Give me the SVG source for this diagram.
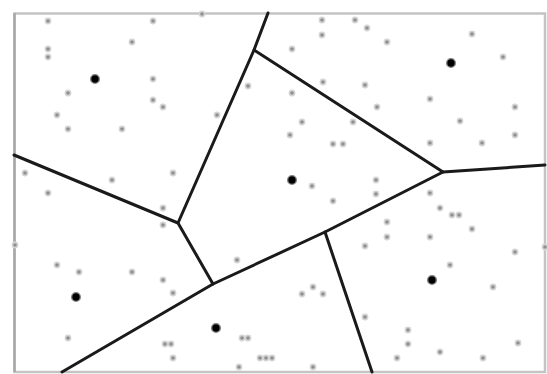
<svg xmlns="http://www.w3.org/2000/svg" xmlns:xlink="http://www.w3.org/1999/xlink" width="547" height="374" viewBox="0 0 547 374">
<style>
.frame{fill:none;stroke:#c4c4c4;stroke-width:2.5}
.edge{fill:none;stroke:#1a1a1a;stroke-width:3;stroke-linecap:round;stroke-linejoin:round}
.pt{fill:#8f8f8f;stroke:#d4d4d4;stroke-width:1.6}
.seed{fill:#000;stroke:#8a8a8a;stroke-width:1.4}
</style>
<defs>
<circle id="p" r="2.6" class="pt"/>
<circle id="s" r="4.4" class="seed"/>
</defs>
<rect width="547" height="374" fill="#fff"/>
<g id="frame">
<rect x="14.5" y="13.5" width="530.5" height="358.5" class="frame"/>
<line x1="14.5" y1="13" x2="14.5" y2="372" stroke="#a8a8a8" stroke-width="2.5"/>
</g>
<g id="edges">
<polyline class="edge" points="268,13 254,50 178,223"/>
<polyline class="edge" points="254,50 443,172 545,165"/>
<polyline class="edge" points="14,155 178,223 213,284"/>
<polyline class="edge" points="62,372 213,284 325,232 443,172"/>
<polyline class="edge" points="325,232 372,372"/>
</g>
<g id="seeds">
<use xlink:href="#s" x="95" y="79"/>
<use xlink:href="#s" x="451" y="63"/>
<use xlink:href="#s" x="292" y="180"/>
<use xlink:href="#s" x="76" y="297"/>
<use xlink:href="#s" x="216" y="328"/>
<use xlink:href="#s" x="432" y="280"/>
</g>
<g id="points">
<use xlink:href="#p" x="48" y="21"/>
<use xlink:href="#p" x="153" y="21"/>
<use xlink:href="#p" x="202" y="14"/>
<use xlink:href="#p" x="132" y="42"/>
<use xlink:href="#p" x="48" y="49"/>
<use xlink:href="#p" x="48" y="57"/>
<use xlink:href="#p" x="153" y="79"/>
<use xlink:href="#p" x="68" y="93"/>
<use xlink:href="#p" x="153" y="100"/>
<use xlink:href="#p" x="163" y="107"/>
<use xlink:href="#p" x="57" y="115"/>
<use xlink:href="#p" x="68" y="129"/>
<use xlink:href="#p" x="122" y="129"/>
<use xlink:href="#p" x="217" y="115"/>
<use xlink:href="#p" x="248" y="86"/>
<use xlink:href="#p" x="25" y="173"/>
<use xlink:href="#p" x="112" y="180"/>
<use xlink:href="#p" x="173" y="173"/>
<use xlink:href="#p" x="322" y="20"/>
<use xlink:href="#p" x="355" y="20"/>
<use xlink:href="#p" x="367" y="28"/>
<use xlink:href="#p" x="322" y="35"/>
<use xlink:href="#p" x="387" y="42"/>
<use xlink:href="#p" x="292" y="49"/>
<use xlink:href="#p" x="472" y="34"/>
<use xlink:href="#p" x="503" y="57"/>
<use xlink:href="#p" x="323" y="82"/>
<use xlink:href="#p" x="365" y="85"/>
<use xlink:href="#p" x="292" y="93"/>
<use xlink:href="#p" x="430" y="99"/>
<use xlink:href="#p" x="377" y="107"/>
<use xlink:href="#p" x="515" y="107"/>
<use xlink:href="#p" x="302" y="122"/>
<use xlink:href="#p" x="353" y="122"/>
<use xlink:href="#p" x="460" y="121"/>
<use xlink:href="#p" x="290" y="135"/>
<use xlink:href="#p" x="333" y="144"/>
<use xlink:href="#p" x="343" y="144"/>
<use xlink:href="#p" x="430" y="143"/>
<use xlink:href="#p" x="482" y="143"/>
<use xlink:href="#p" x="515" y="135"/>
<use xlink:href="#p" x="312" y="186"/>
<use xlink:href="#p" x="376" y="180"/>
<use xlink:href="#p" x="48" y="193"/>
<use xlink:href="#p" x="163" y="208"/>
<use xlink:href="#p" x="163" y="225"/>
<use xlink:href="#p" x="15" y="245"/>
<use xlink:href="#p" x="57" y="265"/>
<use xlink:href="#p" x="79" y="272"/>
<use xlink:href="#p" x="132" y="272"/>
<use xlink:href="#p" x="163" y="280"/>
<use xlink:href="#p" x="173" y="293"/>
<use xlink:href="#p" x="237" y="260"/>
<use xlink:href="#p" x="68" y="338"/>
<use xlink:href="#p" x="165" y="344"/>
<use xlink:href="#p" x="171" y="344"/>
<use xlink:href="#p" x="242" y="338"/>
<use xlink:href="#p" x="248" y="338"/>
<use xlink:href="#p" x="173" y="358"/>
<use xlink:href="#p" x="260" y="358"/>
<use xlink:href="#p" x="266" y="358"/>
<use xlink:href="#p" x="239" y="367"/>
<use xlink:href="#p" x="430" y="193"/>
<use xlink:href="#p" x="376" y="194"/>
<use xlink:href="#p" x="333" y="201"/>
<use xlink:href="#p" x="440" y="208"/>
<use xlink:href="#p" x="452" y="215"/>
<use xlink:href="#p" x="459" y="215"/>
<use xlink:href="#p" x="387" y="222"/>
<use xlink:href="#p" x="387" y="237"/>
<use xlink:href="#p" x="430" y="237"/>
<use xlink:href="#p" x="472" y="229"/>
<use xlink:href="#p" x="365" y="246"/>
<use xlink:href="#p" x="515" y="252"/>
<use xlink:href="#p" x="450" y="265"/>
<use xlink:href="#p" x="313" y="287"/>
<use xlink:href="#p" x="302" y="294"/>
<use xlink:href="#p" x="323" y="294"/>
<use xlink:href="#p" x="493" y="287"/>
<use xlink:href="#p" x="365" y="317"/>
<use xlink:href="#p" x="408" y="330"/>
<use xlink:href="#p" x="408" y="344"/>
<use xlink:href="#p" x="440" y="352"/>
<use xlink:href="#p" x="397" y="358"/>
<use xlink:href="#p" x="483" y="358"/>
<use xlink:href="#p" x="518" y="343"/>
<use xlink:href="#p" x="313" y="367"/>
<use xlink:href="#p" x="272" y="358"/>
<use xlink:href="#p" x="545" y="247"/>
</g>
</svg>
